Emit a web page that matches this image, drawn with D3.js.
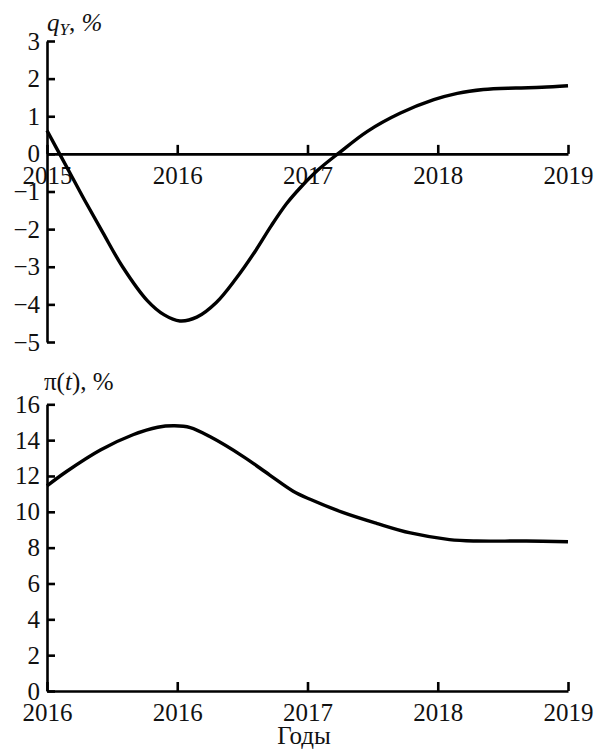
<!DOCTYPE html>
<html>
<head>
<meta charset="utf-8">
<script src="https://cdn.jsdelivr.net/npm/d3@7"></script>
</head>
<body style="margin:0">
<script>
const FONT = "Liberation Serif";

// t = years since the start of the horizontal axis (0..4)
const tickPos = [0, 1, 2, 3, 4];
const topTickLabels = ["2015", "2016", "2017", "2018", "2019"];
const bottomTickLabels = ["2016", "2016", "2017", "2018", "2019"];

const qyTicks = [3, 2, 1, 0, -1, -2, -3, -4, -5];
const piTicks = [0, 2, 4, 6, 8, 10, 12, 14, 16];

// q_Y, %
const qyT   = [0, 0.10, 0.20, 0.30, 0.43, 0.58, 0.77, 0.90, 1.02, 1.15, 1.30, 1.45, 1.60, 1.72, 1.84, 1.95, 2.08, 2.24, 2.46, 2.71, 2.97, 3.15, 3.35, 3.60, 3.80, 4.00];
const qyVal = [0.62, -0.02, -0.66, -1.30, -2.10, -3.00, -3.90, -4.28, -4.44, -4.34, -3.95, -3.32, -2.58, -1.92, -1.32, -0.88, -0.43, 0.02, 0.60, 1.08, 1.44, 1.61, 1.71, 1.75, 1.77, 1.81];

// pi(t), %
const piT   = [0, 0.15, 0.41, 0.66, 0.85, 0.98, 1.10, 1.25, 1.51, 1.71, 1.89, 2.02, 2.27, 2.53, 2.79, 3.09, 3.30, 3.68, 4.00];
const piVal = [11.45, 12.25, 13.45, 14.3, 14.72, 14.8, 14.7, 14.2, 13.07, 12.05, 11.15, 10.7, 9.97, 9.36, 8.82, 8.45, 8.37, 8.37, 8.33];

const width = 596, height = 749;
const svg = d3.select("body").append("svg")
  .attr("width", width).attr("height", height);

const x = d3.scaleLinear().domain([0, 4]).range([47, 568]);
const yTop = d3.scaleLinear().domain([-5, 3]).range([342, 41]);
const yBot = d3.scaleLinear().domain([0, 16]).range([691, 404.3]);

function fmt(d) { return d < 0 ? "\u2212" + Math.abs(d) : String(d); }

function styleAxis(g) {
  g.attr("font-family", null).attr("font-size", null);
  g.selectAll("path, line").attr("stroke", "#000").attr("stroke-width", 2.6);
  g.selectAll("text")
    .style("font-family", `"${FONT}"`)
    .style("font-size", "25px")
    .attr("fill", "#111");
}

function drawPanel(y, yTicks, labels, ts, vals) {
  svg.append("g")
    .attr("transform", `translate(0,${y(0)})`)
    .call(d3.axisBottom(x).tickValues(tickPos).tickSizeInner(-9).tickSizeOuter(0)
      .tickPadding(12).tickFormat((d, i) => labels[i]))
    .call(styleAxis);

  svg.append("g")
    .attr("transform", `translate(${x(0)},0)`)
    .call(d3.axisLeft(y).tickValues(yTicks).tickSizeInner(-8).tickSizeOuter(0)
      .tickPadding(7).tickFormat(fmt))
    .call(styleAxis);

  const line = d3.line()
    .x((d, i) => x(ts[i]))
    .y(d => y(d))
    .curve(d3.curveCatmullRom.alpha(0.5));

  svg.append("path")
    .datum(vals)
    .attr("d", line)
    .attr("fill", "none")
    .attr("stroke", "#000")
    .attr("stroke-width", 3.4)
    .attr("stroke-linejoin", "round");
}

drawPanel(yTop, qyTicks, topTickLabels, qyT, qyVal);
drawPanel(yBot, piTicks, bottomTickLabels, piT, piVal);

// axis titles
const t1 = svg.append("text").attr("x", 47).attr("y", 31)
  .style("font-family", `"${FONT}"`).style("font-size", "25px").attr("fill", "#111");
t1.append("tspan").style("font-style", "italic").text("q");
t1.append("tspan").style("font-style", "italic").style("font-size", "17px").attr("dy", 4).text("Y");
t1.append("tspan").attr("dy", -4).text(", ");
t1.append("tspan").style("font-style", "italic").text("%");

const t2 = svg.append("text").attr("x", 44).attr("y", 390)
  .style("font-family", `"${FONT}"`).style("font-size", "25px").attr("fill", "#111");
t2.append("tspan").text("\u03c0(");
t2.append("tspan").style("font-style", "italic").text("t");
t2.append("tspan").text("), %");

svg.append("text")
  .attr("x", 304).attr("y", 744)
  .attr("text-anchor", "middle")
  .style("font-family", `"${FONT}"`).style("font-size", "25px").attr("fill", "#111")
  .text("Годы");
</script>
</body>
</html>
